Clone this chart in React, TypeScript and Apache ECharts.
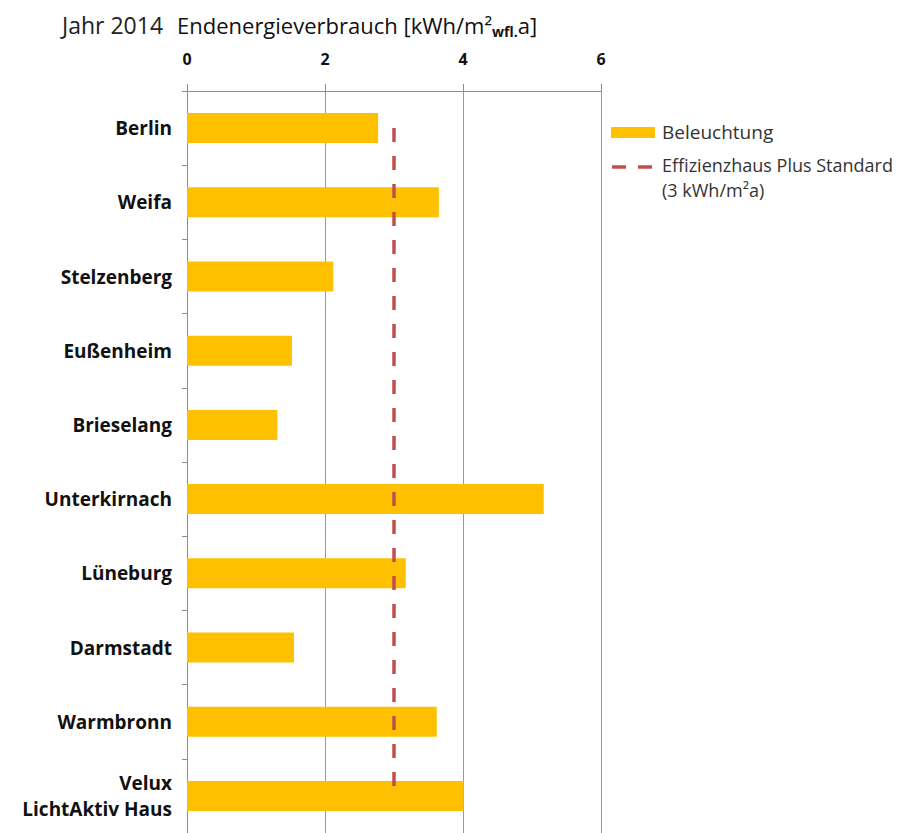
import React, { useEffect, useRef } from "react";
import * as echarts from "echarts";

const categories = [
  "Berlin",
  "Weifa",
  "Stelzenberg",
  "Eußenheim",
  "Brieselang",
  "Unterkirnach",
  "Lüneburg",
  "Darmstadt",
  "Warmbronn",
  "Velux\nLichtAktiv Haus",
];
const beleuchtung = [2.77, 3.65, 2.12, 1.52, 1.31, 5.17, 3.17, 1.55, 3.62, 4.01];
const standardValue = 3;
const xTicks = [0, 2, 4, 6];

const FONT = "'Open Sans', 'Noto Sans', sans-serif";

export default function App() {
  const ref = useRef<HTMLDivElement>(null);
  useEffect(() => {
    if (!ref.current) return;
    const chart = echarts.init(ref.current, null, { renderer: "svg" });
    const option: any = {
      animation: false,
      backgroundColor: "#ffffff",
      textStyle: { fontFamily: FONT },
      grid: { left: 187, right: 320, top: 91, height: 747, containLabel: false },
      xAxis: {
        type: "value",
        position: "top",
        min: xTicks[0],
        max: xTicks[xTicks.length - 1],
        interval: 2,
        axisLine: { show: true, lineStyle: { color: "#8c8c8c", width: 1 } },
        axisTick: { show: true, length: 7, lineStyle: { color: "#8c8c8c" } },
        axisLabel: {
          fontFamily: FONT,
          fontWeight: "bold",
          fontSize: 16,
          color: "#111",
          margin: 24,
        },
        splitLine: { show: true, lineStyle: { color: "#9a9a9a", width: 1 } },
      },
      yAxis: {
        type: "category",
        inverse: true,
        data: categories,
        boundaryGap: true,
        axisLine: { show: true, lineStyle: { color: "#8c8c8c", width: 1 } },
        axisTick: { show: true, length: 5, lineStyle: { color: "#8c8c8c" } },
        axisLabel: {
          fontFamily: FONT,
          fontWeight: "bold",
          fontSize: 19,
          color: "#111",
          margin: 15,
          lineHeight: 26,
        },
      },
      series: [
        {
          name: "Beleuchtung",
          type: "bar",
          data: beleuchtung,
          barWidth: 30,
          itemStyle: { color: "#FFC000" },
          z: 2,
        },
        {
          name: "Effizienzhaus Plus Standard",
          type: "line",
          data: [
            [standardValue, categories[0]],
            [standardValue, categories[categories.length - 1]],
          ],
          symbol: "none",
          lineStyle: { color: "#C0504D", width: 3.5, type: [14, 14] },
          z: 3,
        },
      ],
      graphic: [
        {
          type: "text",
          x: 62,
          y: 25,
          style: {
            text: "Jahr 2014",
            fontFamily: FONT,
            fontSize: 23,
            fill: "#222",
            textVerticalAlign: "middle",
          },
        },
        {
          type: "text",
          x: 177,
          y: 25,
          style: {
            text: "{t|Endenergieverbrauch [kWh/m²}{s|wfl.}{t|a]}",
            textVerticalAlign: "middle",
            rich: {
              t: { fontFamily: FONT, fontSize: 22, fill: "#111" },
              s: { fontFamily: FONT, fontSize: 14, fontWeight: "bold", fill: "#111", padding: [12, 0, 0, 0] },
            },
          },
        },
        {
          type: "rect",
          shape: { x: 611, y: 127, width: 44, height: 11 },
          style: { fill: "#FFC000" },
        },
        {
          type: "text",
          x: 662,
          y: 132,
          style: {
            text: "Beleuchtung",
            fontFamily: FONT,
            fontSize: 19,
            fill: "#333",
            textVerticalAlign: "middle",
          },
        },
        {
          type: "line",
          shape: { x1: 612, y1: 167, x2: 626, y2: 167 },
          style: { stroke: "#C0504D", lineWidth: 3.5 },
        },
        {
          type: "line",
          shape: { x1: 638, y1: 167, x2: 652, y2: 167 },
          style: { stroke: "#C0504D", lineWidth: 3.5 },
        },
        {
          type: "text",
          x: 662,
          y: 165,
          style: {
            text: "Effizienzhaus Plus Standard",
            fontFamily: FONT,
            fontSize: 18,
            fill: "#333",
            textVerticalAlign: "middle",
          },
        },
        {
          type: "text",
          x: 662,
          y: 190,
          style: {
            text: "(3 kWh/m²a)",
            fontFamily: FONT,
            fontSize: 18,
            fill: "#333",
            textVerticalAlign: "middle",
          },
        },
      ],
    };
    chart.setOption(option);
    return () => chart.dispose();
  }, []);
  return (
    <div
      ref={ref}
      style={{ position: "fixed", left: 0, top: 0, width: 921, height: 833 }}
    />
  );
}
